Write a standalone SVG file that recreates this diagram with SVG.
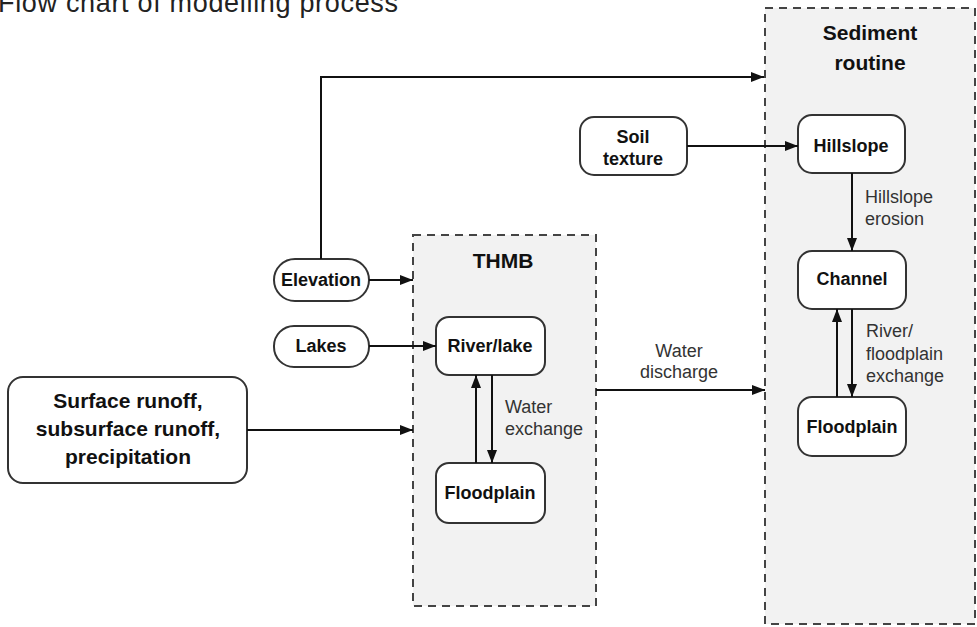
<svg xmlns="http://www.w3.org/2000/svg" width="977" height="627" viewBox="0 0 977 627">
<defs>
<marker id="arr" markerUnits="userSpaceOnUse" markerWidth="14" markerHeight="11" refX="13" refY="5" orient="auto">
<path d="M0,0 L13,5 L0,10 z" fill="#111"/>
</marker>
<style>
.grp{fill:#f2f2f2;stroke:#444;stroke-width:2;stroke-dasharray:8,6}
.node{fill:#fff;stroke:#333;stroke-width:2}
.nt{font-family:"Liberation Sans",Arial,sans-serif;font-weight:bold;font-size:18px;fill:#111;text-anchor:middle}
.big{font-size:21px}
.lbl{font-family:"Liberation Sans",Arial,sans-serif;font-size:18px;fill:#333}
.conn path{fill:none;stroke:#111;stroke-width:2;marker-end:url(#arr)}
</style>
</defs>
<rect width="977" height="627" fill="#fff"/>
<text x="-2" y="12" font-family="Liberation Sans,Arial,sans-serif" font-size="27" fill="#222" textLength="400">Flow chart of modelling process</text>

<g id="sediment">
<rect class="grp" x="765" y="8" width="210" height="616"/>
<text class="nt big" x="870" y="40">Sediment</text>
<text class="nt big" x="870" y="70">routine</text>
</g>
<g id="thmb">
<rect class="grp" x="413" y="235" width="183" height="371"/>
<text class="nt big" x="503" y="268">THMB</text>
</g>

<g id="elevation"><rect class="node" x="274" y="259" width="95" height="42" rx="21"/><text class="nt" x="321" y="286">Elevation</text></g>
<g id="lakes"><rect class="node" x="274" y="326" width="95" height="41" rx="20"/><text class="nt" x="321" y="352">Lakes</text></g>
<g id="surface"><rect class="node" x="8" y="377" width="239" height="106" rx="15"/>
<text class="nt big" x="128" y="408">Surface runoff,</text>
<text class="nt big" x="128" y="436">subsurface runoff,</text>
<text class="nt big" x="128" y="464">precipitation</text></g>
<g id="riverlake"><rect class="node" x="436" y="317" width="109" height="58" rx="13"/><text class="nt" x="490" y="352">River/lake</text></g>
<g id="floodplain1"><rect class="node" x="436" y="463" width="109" height="60" rx="13"/><text class="nt" x="490" y="499">Floodplain</text></g>
<g id="soil"><rect class="node" x="580" y="117" width="107" height="58" rx="14"/><text class="nt" x="633" y="143">Soil</text><text class="nt" x="633" y="165">texture</text></g>
<g id="hillslope"><rect class="node" x="798" y="115" width="107" height="58" rx="14"/><text class="nt" x="851" y="152">Hillslope</text></g>
<g id="channel"><rect class="node" x="798" y="251" width="108" height="58" rx="14"/><text class="nt" x="852" y="285">Channel</text></g>
<g id="floodplain2"><rect class="node" x="798" y="397" width="108" height="59" rx="14"/><text class="nt" x="852" y="433">Floodplain</text></g>

<g class="conn" id="connectors">
<path d="M321,259 V77 H764"/>
<path d="M369,280 H413"/>
<path d="M369,346 H436"/>
<path d="M247,430 H413"/>
<path d="M476,463 V375"/>
<path d="M492,375 V463"/>
<path d="M596,390 H765"/>
<path d="M687,146 H798"/>
<path d="M852,173 V251"/>
<path d="M852,309 V397"/>
<path d="M837,397 V309"/>
</g>

<g id="labels">
<text class="lbl" x="505" y="413">Water</text>
<text class="lbl" x="505" y="435">exchange</text>
<text class="lbl" x="679" y="357" text-anchor="middle">Water</text>
<text class="lbl" x="679" y="378" text-anchor="middle">discharge</text>
<text class="lbl" x="865" y="203">Hillslope</text>
<text class="lbl" x="865" y="225">erosion</text>
<text class="lbl" x="866" y="337">River/</text>
<text class="lbl" x="866" y="360">floodplain</text>
<text class="lbl" x="866" y="382">exchange</text>
</g>
</svg>
